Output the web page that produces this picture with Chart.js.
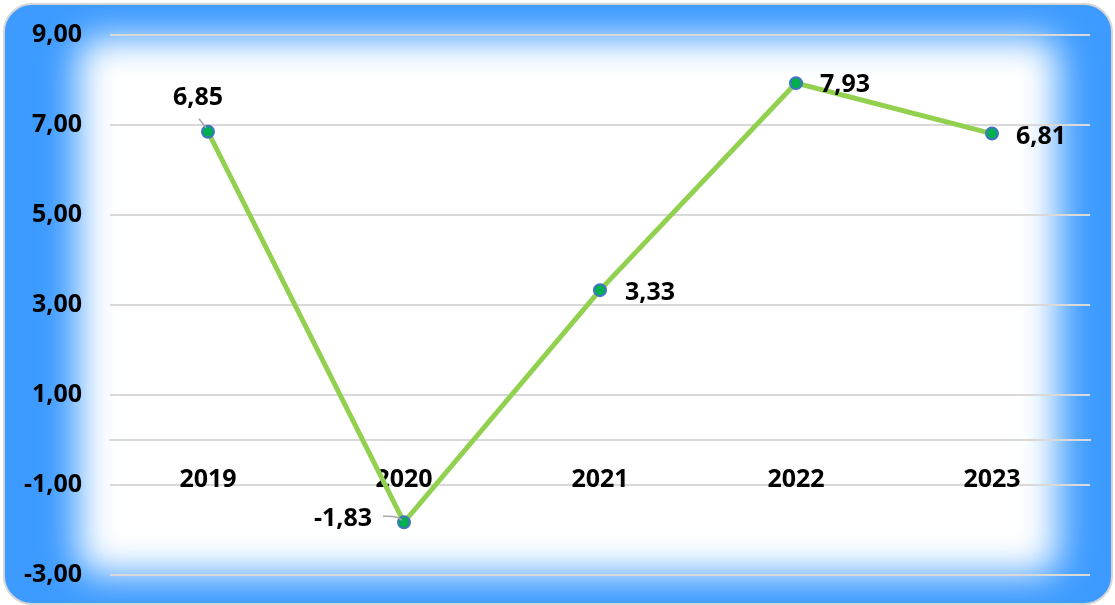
<!DOCTYPE html>
<html>
<head>
<meta charset="utf-8">
<script src="https://cdn.jsdelivr.net/npm/chart.js@4.4.1/dist/chart.umd.min.js"></script>
<style>
  html, body { margin: 0; padding: 0; background: #fff; }
  #wrap { width: 1115px; height: 605px; }
</style>
</head>
<body>
<div id="wrap"><canvas id="chart" width="1115" height="605"></canvas></div>
<script>
const years = ['2019', '2020', '2021', '2022', '2023'];
const values = [6.85, -1.83, 3.33, 7.93, 6.81];
const yMin = -3;
const yMax = 9;
const yStep = 2;

const FONT = '"Open Sans", Lato, sans-serif';
const fmt = v => v.toFixed(2).replace('.', ',');

// label offsets from each point (px)
const labelOffsets = [[-10, -34], [-61, -3], [50, 3], [49, 2], [49, 3]];

function roundRect(ctx, x, y, w, h, r) {
    ctx.beginPath();
    ctx.moveTo(x + r, y);
    ctx.arcTo(x + w, y, x + w, y + h, r);
    ctx.arcTo(x + w, y + h, x, y + h, r);
    ctx.arcTo(x, y + h, x, y, r);
    ctx.arcTo(x, y, x + w, y, r);
    ctx.closePath();
}

const backdrop = {
    id: 'backdrop',
    beforeDraw(chart) {
        const ctx = chart.ctx;
        ctx.save();
        roundRect(ctx, 4, 4, 1108, 600, 28);
        ctx.fillStyle = '#3d9bff';
        ctx.fill();
        ctx.clip();
        ctx.filter = 'blur(18px)';
        ctx.fillStyle = '#ffffff';
        roundRect(ctx, 78, 38, 980, 536, 20);
        ctx.fill();
        ctx.filter = 'none';
        ctx.restore();
        ctx.save();
        roundRect(ctx, 4, 4, 1108, 600, 28);
        ctx.strokeStyle = '#d4d4d4';
        ctx.lineWidth = 2;
        ctx.stroke();
        ctx.restore();
    }
};

const valueLabels = {
    id: 'valueLabels',
    afterDatasetsDraw(chart) {
        const ctx = chart.ctx;
        const pts = chart.getDatasetMeta(0).data;
        ctx.save();
        // leader lines
        ctx.strokeStyle = '#a6a6a6';
        ctx.lineWidth = 1.5;
        ctx.beginPath();
        ctx.moveTo(pts[0].x - 9, pts[0].y - 13);
        ctx.lineTo(pts[0].x - 2, pts[0].y - 4);
        ctx.moveTo(pts[1].x - 21, pts[1].y - 6);
        ctx.quadraticCurveTo(pts[1].x - 6, pts[1].y - 7, pts[1].x - 2, pts[1].y - 2);
        ctx.stroke();
        ctx.font = 'bold 25px ' + FONT;
        ctx.fillStyle = '#000';
        ctx.textAlign = 'center';
        ctx.textBaseline = 'middle';
        pts.forEach((p, i) => {
            ctx.fillText(fmt(values[i]), p.x + labelOffsets[i][0], p.y + labelOffsets[i][1]);
        });
        ctx.restore();
    }
};

new Chart(document.getElementById('chart'), {
    type: 'line',
    data: {
        labels: years,
        datasets: [{
            data: values,
            borderColor: '#92d050',
            borderWidth: 5,
            tension: 0,
            pointRadius: 6,
            pointHoverRadius: 6,
            pointBackgroundColor: '#00b050',
            pointBorderColor: '#4472c4',
            pointBorderWidth: 2,
        }],
    },
    options: {
        responsive: false,
        animation: false,
        layout: { padding: { top: 35, right: 25, bottom: 30, left: 0 } },
        plugins: {
            legend: { display: false },
            tooltip: { enabled: false },
        },
        scales: {
            x: {
                type: 'category',
                offset: true,
                position: { y: 0 },
                grid: { display: true, drawOnChartArea: false, drawTicks: false },
                border: { display: true, color: '#d9d9d9', width: 2 },
                ticks: {
                    color: '#000',
                    padding: 25,
                    font: { family: FONT, size: 25, weight: 'bold' },
                },
            },
            y: {
                min: yMin,
                max: yMax,
                afterFit: s => {
                    s.width = 110;
                    s.paddingTop = 0;
                    s.paddingBottom = 0;
                },
                grid: { color: '#d9d9d9', lineWidth: 2, drawTicks: false },
                border: { display: false },
                ticks: {
                    stepSize: yStep,
                    padding: 28,
                    color: '#000',
                    font: { family: FONT, size: 25, weight: 'bold' },
                    callback: v => fmt(v),
                },
            },
        },
    },
    plugins: [backdrop, valueLabels],
});
</script>
</body>
</html>
